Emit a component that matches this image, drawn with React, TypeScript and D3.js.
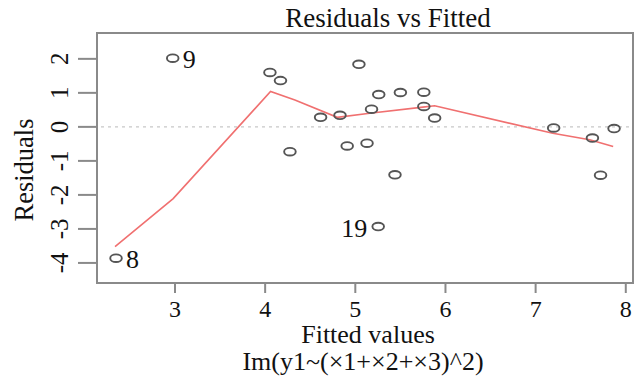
import * as d3 from "d3";

const fitted = [
  2.346, 2.975, 4.053, 4.17, 4.275, 5.04, 4.615, 4.83, 5.26, 5.5, 5.76, 5.18,
  5.76, 5.88, 4.91, 5.13, 5.44, 5.254, 7.2, 7.63, 7.87, 7.72,
];
const residuals = [
  -3.86, 2.02, 1.6, 1.36, -0.73, 1.84, 0.28, 0.34, 0.95, 1.01, 1.02, 0.52,
  0.6, 0.26, -0.56, -0.48, -1.41, -2.93, -0.03, -0.33, -0.05, -1.42,
];
// labelled outliers: index -> label, side
const outliers = [
  { i: 0, label: "8", side: "right" },
  { i: 1, label: "9", side: "right" },
  { i: 17, label: "19", side: "left" },
];

// lowess smoother vertices
const smoothX = [2.335, 2.98, 4.06, 4.33, 4.8, 5.16, 5.75, 5.88, 7.19, 7.6, 7.86];
const smoothY = [-3.52, -2.11, 1.04, 0.79, 0.28, 0.4, 0.58, 0.62, -0.19, -0.38, -0.58];

const xTicks = [3, 4, 5, 6, 7, 8];
const yTicks = [-4, -3, -2, -1, 0, 1, 2];

const title = "Residuals vs Fitted";
const xLabel = "Fitted values";
const subLabel = "Im(y1~(×1+×2+×3)^2)";
const yLabel = "Residuals";

const W = 637;
const H = 378;
const left = 97;
const right = 633;
const top = 33;
const bottom = 283;
const font = "'Liberation Serif', 'Times New Roman', serif";
const axisGrey = "#8a8a8a";

export default function App() {
  const x = d3.scaleLinear().domain([2.135, 8.08]).range([left, right]);
  const y = d3.scaleLinear().domain([-4.59, 2.76]).range([bottom, top]);

  const line = d3
    .line<number>()
    .x((d) => x(d))
    .y((_, i) => y(smoothY[i]));

  return (
    <svg
      width={W}
      height={H}
      style={{ position: "absolute", left: 0, top: 0, background: "#fff" }}
      fontFamily={font}
    >
      <text x={388} y={27} textAnchor="middle" fontSize={27} fill="#111">
        {title}
      </text>

      {/* zero reference */}
      <line
        x1={left + 4}
        x2={right - 4}
        y1={y(0)}
        y2={y(0)}
        stroke="#c8c8c8"
        strokeWidth={1.2}
        strokeDasharray="3,4"
      />

      <path
        d={line(smoothX) ?? ""}
        fill="none"
        stroke="#f07070"
        strokeWidth={1.6}
      />

      {fitted.map((f, i) => (
        <ellipse
          key={i}
          cx={x(f)}
          cy={y(residuals[i])}
          rx={5.8}
          ry={3.8}
          fill="none"
          stroke="#555"
          strokeWidth={1.9}
        />
      ))}

      {outliers.map((o) => (
        <text
          key={o.label}
          x={o.side === "right" ? x(fitted[o.i]) + 10 : x(fitted[o.i]) - 11}
          y={y(residuals[o.i]) + 10}
          textAnchor={o.side === "right" ? "start" : "end"}
          fontSize={26}
          fill="#111"
        >
          {o.label}
        </text>
      ))}

      {/* box */}
      <rect
        x={left}
        y={top}
        width={right - left}
        height={bottom - top}
        fill="none"
        stroke={axisGrey}
        strokeWidth={2}
      />

      {xTicks.map((t) => (
        <g key={t}>
          <line x1={x(t)} x2={x(t)} y1={bottom} y2={bottom + 10} stroke={axisGrey} strokeWidth={2} />
          <text x={x(t)} y={317} textAnchor="middle" fontSize={24} fill="#111">
            {t}
          </text>
        </g>
      ))}

      {yTicks.map((t) => (
        <g key={t}>
          <line x1={left - 19} x2={left} y1={y(t)} y2={y(t)} stroke={axisGrey} strokeWidth={2} />
          <text
            transform={`translate(68,${y(t)}) rotate(-90)`}
            textAnchor="middle"
            fontSize={25}
            fill="#111"
          >
            {t}
          </text>
        </g>
      ))}

      <text x={368} y={343} textAnchor="middle" fontSize={26} fill="#111">
        {xLabel}
      </text>
      <text x={363} y={370} textAnchor="middle" fontSize={26} fill="#111">
        {subLabel}
      </text>
      <text
        transform={`translate(33,170) rotate(-90)`}
        textAnchor="middle"
        fontSize={26.5}
        fill="#111"
      >
        {yLabel}
      </text>
    </svg>
  );
}
